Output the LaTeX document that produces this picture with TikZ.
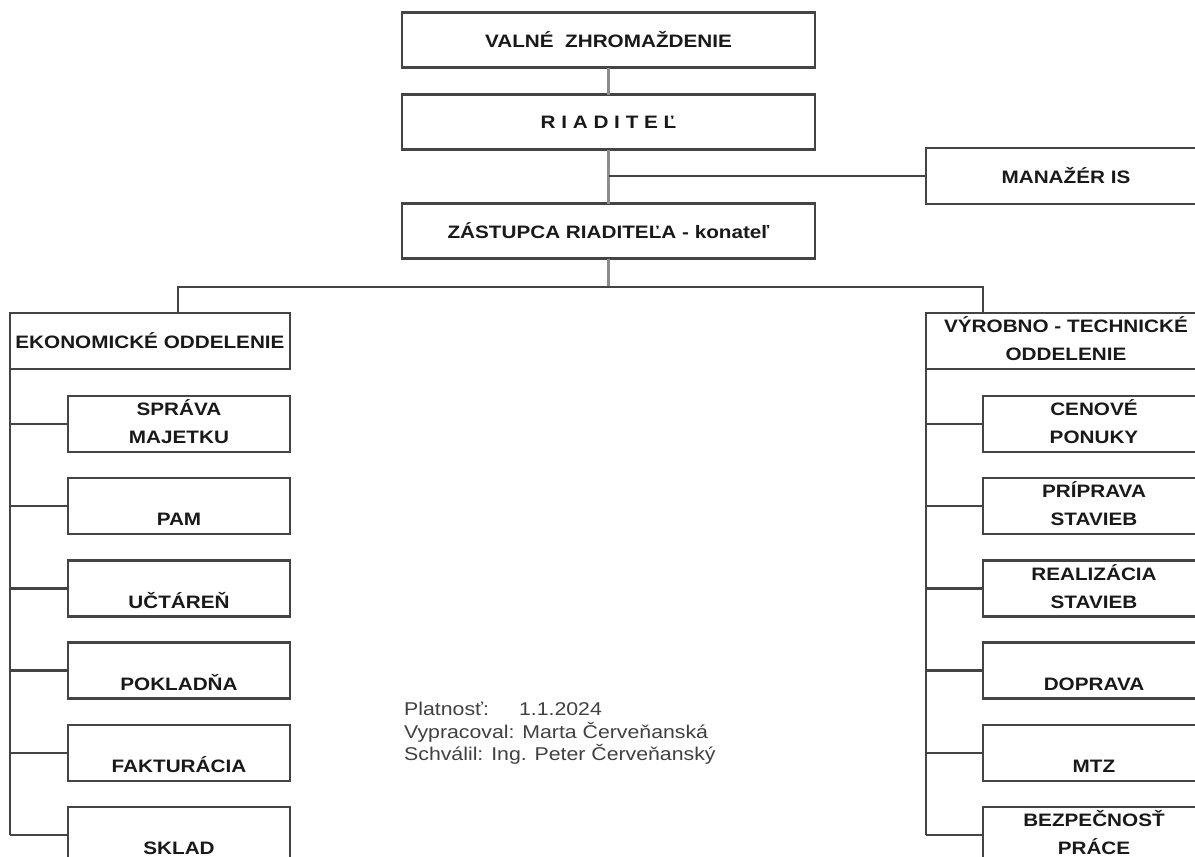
\documentclass[tikz,border=0pt]{standalone}
\usepackage{fontspec}
\setmainfont{Liberation Sans}[FakeStretch=1.15]
\usepackage{tikz}
\usetikzlibrary{positioning}

\definecolor{ciara}{HTML}{444444}
\definecolor{spoj}{HTML}{8C8C8C}

\tikzset{
  box/.style={draw=ciara, line width=2.4pt, inner sep=0pt, outer sep=0pt, minimum height=56pt, align=center, text=black!90, font=\bfseries\fontsize{18}{28}\selectfont},
  hlavny/.style={box, minimum width=413pt, minimum height=55pt},
  oddel/.style={box, minimum width=280pt},
  usek/.style={box, minimum width=222pt},
  conn/.style={draw=spoj, line width=3pt},
  branch/.style={draw=ciara, line width=2.4pt},
}
\newcommand{\dvaRiadky}[2]{\strut#1\\\strut#2}

\begin{document}
\begin{tikzpicture}[x=1pt,y=-1pt]
\useasboundingbox (0,0) rectangle (1195,857);
\clip (0,0) rectangle (1195,857);

% vedenie
\node[hlavny] (valne) at (608.5,40) {VALNÉ\ \ ZHROMAŽDENIE};
\node[hlavny, below=27pt of valne] (riaditel) {R I A D I T E Ľ};
\node[hlavny, below=54pt of riaditel] (zastupca) {ZÁSTUPCA RIADITEĽA - konateľ};
\node[oddel, anchor=west] (manazer) at (926,176) {MANAŽÉR IS};

\draw[conn] (valne) -- (riaditel);
\draw[conn] (riaditel) -- (zastupca);
\draw[branch] (manazer.west) -- (manazer.west -| riaditel.south);

% oddelenia
\node[oddel, anchor=north west] (ekonom) at (10,313) {EKONOMICKÉ ODDELENIE};
\node[oddel, anchor=north west] (vyrobne) at (926,313) {\dvaRiadky{VÝROBNO - TECHNICKÉ}{ODDELENIE}};

\coordinate (rozvod) at (608.5,287);
\draw[conn] (zastupca) -- (rozvod);
\draw[branch] (rozvod) -| ([xshift=28pt]ekonom.north);
\draw[branch] (rozvod) -| ([xshift=-83pt]vyrobne.north);

% ekonomicke useky
\node[usek, anchor=north west] (sprava) at (68,396) {\dvaRiadky{SPRÁVA}{MAJETKU}};
\node[usek, below=26.2pt of sprava] (pam) {\dvaRiadky{}{PAM}};
\node[usek, below=26.2pt of pam] (uctaren) {\dvaRiadky{}{UČTÁREŇ}};
\node[usek, below=26.2pt of uctaren] (pokladna) {\dvaRiadky{}{POKLADŇA}};
\node[usek, below=26.2pt of pokladna] (fakturacia) {\dvaRiadky{}{FAKTURÁCIA}};
\node[usek, below=26.2pt of fakturacia] (sklad) {\dvaRiadky{}{SKLAD}};

\draw[branch] (ekonom.south west) -- (ekonom.south west |- sklad.west);
\foreach \n in {sprava,pam,uctaren,pokladna,fakturacia,sklad}
  \draw[branch] (ekonom.south west |- \n.west) -- (\n.west);

% vyrobno-technicke useky
\node[usek, anchor=north west] (cenove) at (983,396) {\dvaRiadky{CENOVÉ}{PONUKY}};
\node[usek, below=26.2pt of cenove] (priprava) {\dvaRiadky{PRÍPRAVA}{STAVIEB}};
\node[usek, below=26.2pt of priprava] (realizacia) {\dvaRiadky{REALIZÁCIA}{STAVIEB}};
\node[usek, below=26.2pt of realizacia] (doprava) {\dvaRiadky{}{DOPRAVA}};
\node[usek, below=26.2pt of doprava] (mtz) {\dvaRiadky{}{MTZ}};
\node[usek, below=26.2pt of mtz] (bozp) {\dvaRiadky{BEZPEČNOSŤ}{PRÁCE}};

\draw[branch] (vyrobne.south west) -- (vyrobne.south west |- bozp.west);
\foreach \n in {cenove,priprava,realizacia,doprava,mtz,bozp}
  \draw[branch] (vyrobne.south west |- \n.west) -- (\n.west);

% platnost
\node[anchor=north west, align=left, inner sep=0pt, text=black!75, font=\fontsize{18.5}{22.5}\selectfont] (platnost) at (404,702)
  {Platnosť:\hspace{30pt}1.1.2024\\Vypracoval: Marta Červeňanská\\Schválil: Ing. Peter Červeňanský};
\end{tikzpicture}
\end{document}
